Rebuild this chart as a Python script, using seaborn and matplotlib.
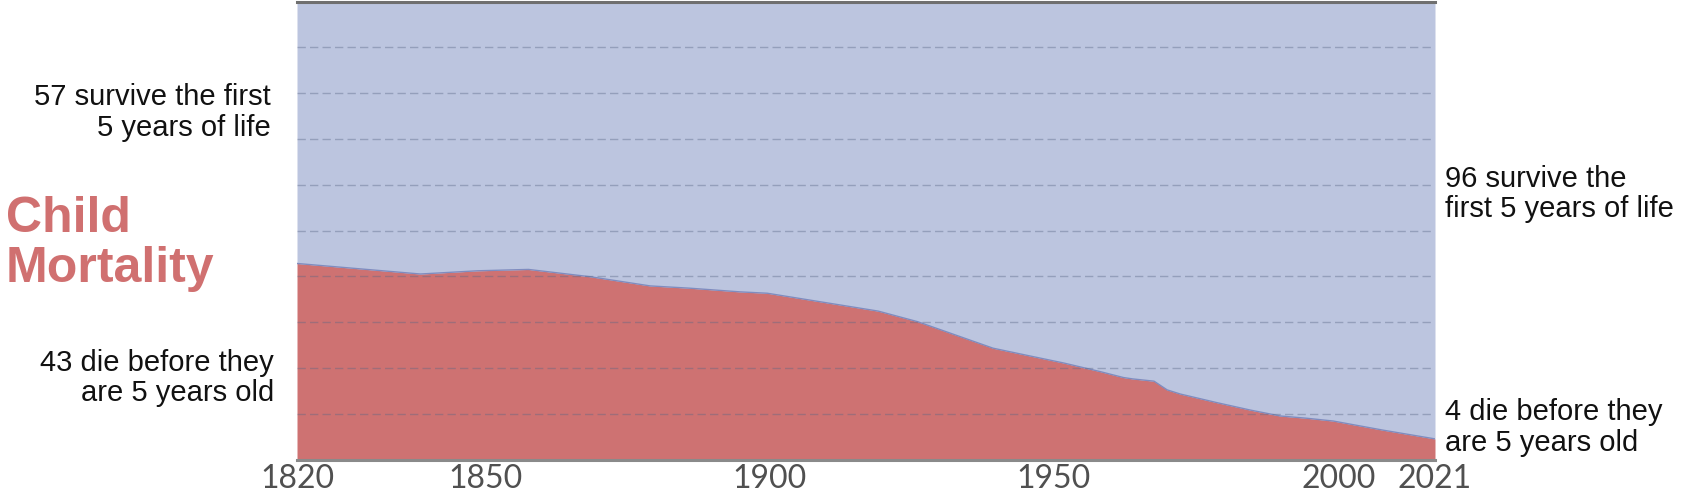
import matplotlib
matplotlib.use("Agg")
import matplotlib.pyplot as plt
import seaborn as sns
import pandas as pd

# Data (share of children dying before age 5, %)
years = [1816.9, 1838.6, 1848.6, 1857.6, 1868.5, 1879.0, 1886.0, 1894.8, 1899.6,
         1919.1, 1926.0, 1939.3, 1945.8, 1951.6, 1958.1, 1962.2, 1963.8, 1967.6,
         1969.9, 1972.2, 1978.7, 1984.5, 1989.8, 1994.5, 1999.1, 2007.9, 2017.0]
died = [42.8, 40.5, 41.2, 41.5, 39.9, 37.9, 37.4, 36.6, 36.3,
        32.4, 30.1, 24.3, 22.6, 21.1, 19.2, 17.9, 17.6, 17.1,
        15.2, 14.3, 12.4, 10.8, 9.5, 9.0, 8.4, 6.4, 4.5]
tick_years = [1850, 1900, 1950, 2000]
tick_labels = ["1820", "1850", "1900", "1950", "2000", "2021"]

df = pd.DataFrame({"year": years, "died": died})

sns.set_theme(style="white")
plt.rcParams["font.family"] = ["Liberation Sans", "DejaVu Sans"]

fig = plt.figure(figsize=(16.94, 4.92), dpi=100)
ax = fig.add_axes([297 / 1694, 1 - 459.5 / 492, (1435 - 297) / 1694, 458 / 492])

red = "#CE7272"
blue = "#BCC5DF"

ax.fill_between(df["year"], df["died"], 100, color=blue, lw=0, zorder=1)
ax.fill_between(df["year"], 0, df["died"], color=red, lw=0, zorder=1)
sns.lineplot(data=df, x="year", y="died", ax=ax, color="#7f8cbf", lw=1.0, zorder=2)

ax.set_xlim(years[0], years[-1])
ax.set_ylim(0, 100)

# gridlines
ax.set_yticks(range(10, 100, 10))
ax.yaxis.grid(True, linestyle=(0, (6, 3)), color="#5a6785", alpha=0.4, lw=1.0, zorder=3)
ax.set_axisbelow(False)
ax.tick_params(axis="y", left=False, labelleft=False)

ax.set_xticks([years[0]] + tick_years + [years[-1]])
ax.set_xticklabels(tick_labels, fontfamily="Lato", fontsize=23, color="#505050")
ax.tick_params(axis="x", length=0, pad=3)
ax.set_xlabel("")
ax.set_ylabel("")

for s in ["left", "right"]:
    ax.spines[s].set_visible(False)
ax.spines["top"].set_color("#6f6f6f")
ax.spines["top"].set_linewidth(2.2)
ax.spines["bottom"].set_color("#8a8a8a")
ax.spines["bottom"].set_linewidth(2.2)
ax.spines["top"].set_zorder(5)
ax.spines["bottom"].set_zorder(5)

tfs = 21
ls = 1.12
ax.text(-0.023, 75.8, "57 survive the first\n5 years of life", transform=ax.get_yaxis_transform(),
        ha="right", va="center", fontsize=tfs, color="#111111", linespacing=ls)
ax.text(-0.020, 17.8, "43 die before they\nare 5 years old", transform=ax.get_yaxis_transform(),
        ha="right", va="center", fontsize=tfs, color="#111111", linespacing=ls)
ax.text(1.009, 58, "96 survive the\nfirst 5 years of life", transform=ax.get_yaxis_transform(),
        ha="left", va="center", fontsize=tfs, color="#111111", linespacing=ls)
ax.text(1.009, 7.0, "4 die before they\nare 5 years old", transform=ax.get_yaxis_transform(),
        ha="left", va="center", fontsize=tfs, color="#111111", linespacing=ls)

fig.text(6 / 1694, 1 - 244 / 492, "Child\nMortality", ha="left", va="center",
         fontsize=36, fontweight="bold", color="#D07070", linespacing=1.1)

fig.savefig("out.png", dpi=100)
